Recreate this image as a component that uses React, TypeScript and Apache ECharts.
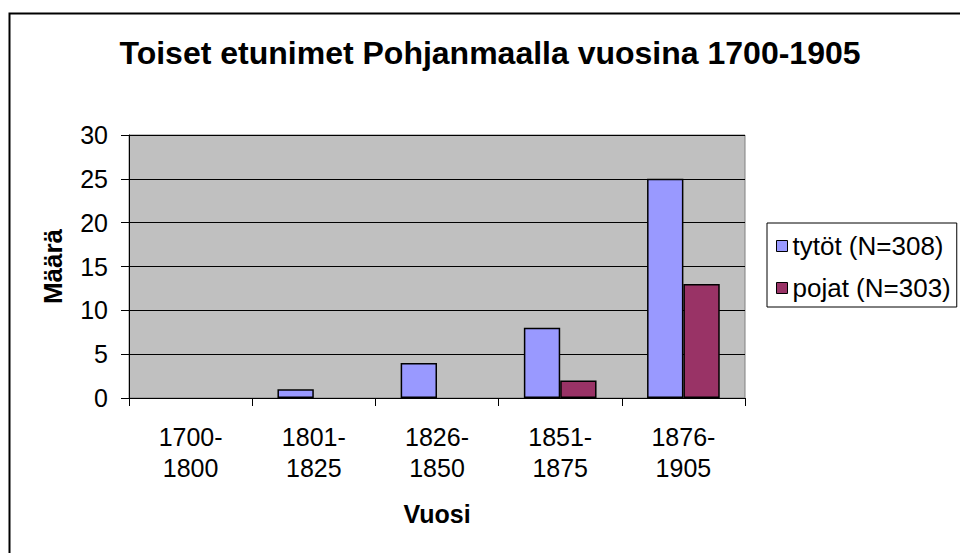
import React, { useEffect, useRef } from "react";
import * as echarts from "echarts";

const categories = ["1700-\n1800", "1801-\n1825", "1826-\n1850", "1851-\n1875", "1876-\n1905"];
const tytot = [0, 1, 4, 8, 25];
const pojat = [0, 0, 0, 2, 13];
const seriesNames = ["tytöt (N=308)", "pojat (N=303)"];
const titleText = "Toiset etunimet Pohjanmaalla vuosina 1700-1905";
const xName = "Vuosi";
const yName = "Määrä";

const FONT = "'Liberation Sans', Arial, sans-serif";

const toBarData = (arr: number[]) =>
  arr.map((v) => (v === 0 ? { value: v, itemStyle: { borderWidth: 0 } } : v));

export default function App() {
  const ref = useRef<HTMLDivElement>(null);
  useEffect(() => {
    if (!ref.current) return;
    const chart = echarts.init(ref.current, null, { renderer: "svg" });
    chart.setOption({
      animation: false,
      backgroundColor: "#ffffff",
      textStyle: { fontFamily: FONT },
      title: {
        text: titleText,
        left: 485,
        textAlign: "center",
        top: 32,
        textStyle: { fontFamily: FONT, fontSize: 32, fontWeight: "bold", color: "#000" },
      },
      graphic: [
        {
          type: "rect",
          shape: { x: 9.5, y: 13.5, width: 1000, height: 600 },
          style: { fill: "none", stroke: "#000", lineWidth: 2 },
          z: 100,
          silent: true,
        },
      ],
      legend: {
        orient: "vertical",
        left: 767,
        top: 223,
        padding: [10, 6, 6, 9],
        itemWidth: 11,
        itemHeight: 11,
        itemGap: 16,
        icon: "rect",
        borderColor: "#000",
        borderWidth: 1,
        backgroundColor: "#fff",
        textStyle: { fontFamily: FONT, fontSize: 26, color: "#000", lineHeight: 26 },
        itemStyle: { borderColor: "#000", borderWidth: 1 },
        data: seriesNames,
      },
      grid: {
        left: 129,
        top: 135,
        right: 215,
        bottom: 155,
        show: true,
        backgroundColor: "#C0C0C0",
        borderColor: "#808080",
        borderWidth: 1,
        containLabel: false,
      },
      xAxis: {
        type: "category",
        data: categories,
        name: xName,
        nameLocation: "middle",
        nameGap: 103,
        nameTextStyle: { fontFamily: FONT, fontSize: 25, fontWeight: "bold", color: "#000", verticalAlign: "top", lineHeight: 25 },
        axisLine: { show: true, lineStyle: { color: "#000", width: 1 } },
        axisTick: { show: true, length: 8, lineStyle: { color: "#000" } },
        axisLabel: { fontFamily: FONT, fontSize: 25, color: "#000", margin: 23, lineHeight: 31 },
        splitLine: { show: false },
      },
      yAxis: {
        type: "value",
        min: 0,
        max: 30,
        interval: 5,
        name: yName,
        nameLocation: "middle",
        nameGap: 63,
        nameRotate: 90,
        nameTextStyle: { fontFamily: FONT, fontSize: 26, fontWeight: "bold", color: "#000" },
        axisLine: { show: true, lineStyle: { color: "#000", width: 1 } },
        axisTick: { show: true, length: 8, lineStyle: { color: "#000" } },
        axisLabel: { fontFamily: FONT, fontSize: 25, color: "#000", margin: 21 },
        splitLine: { show: true, lineStyle: { color: "#000", width: 1 } },
      },
      series: [
        {
          name: seriesNames[0],
          type: "bar",
          data: toBarData(tytot),
          barGap: "0%",
          barCategoryGap: "41%",
          itemStyle: { color: "#9999FF", borderColor: "#000", borderWidth: 1.5 },
        },
        {
          name: seriesNames[1],
          type: "bar",
          data: toBarData(pojat),
          itemStyle: { color: "#993366", borderColor: "#000", borderWidth: 1.5 },
        },
      ],
    });
    return () => chart.dispose();
  }, []);
  return (
    <div
      ref={ref}
      style={{ position: "fixed", left: 0, top: 0, width: 960, height: 553 }}
    />
  );
}
